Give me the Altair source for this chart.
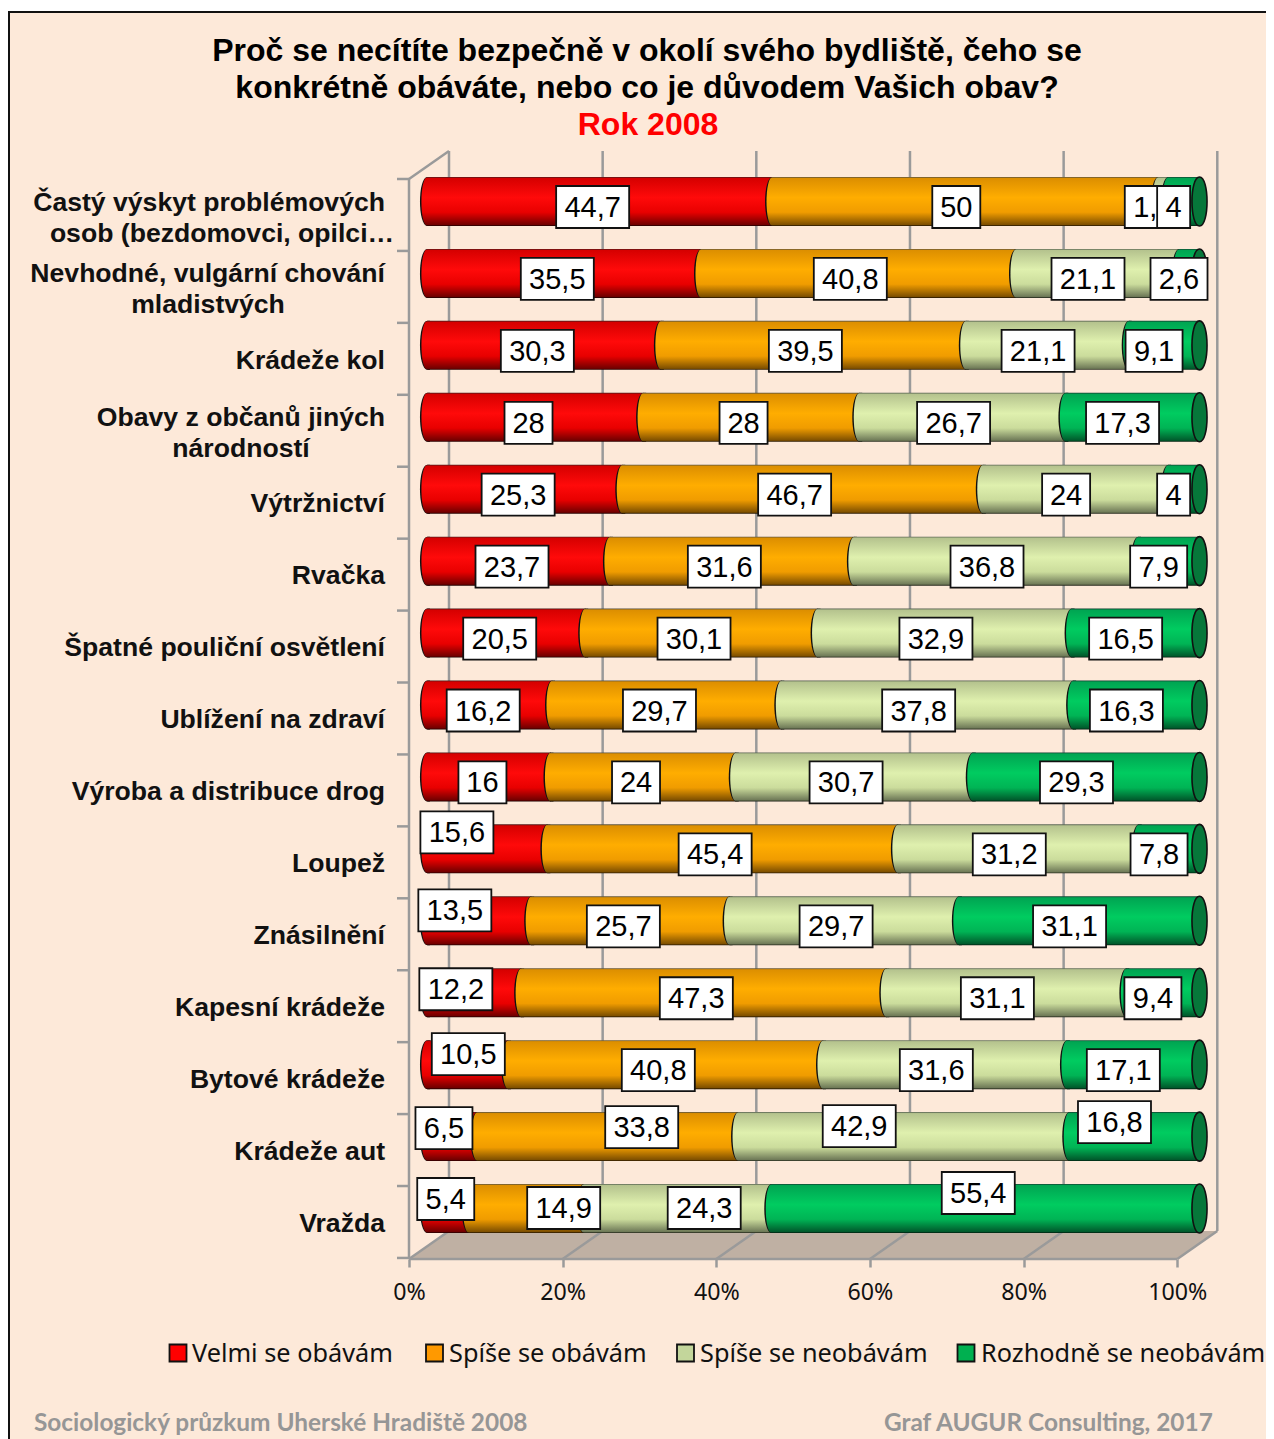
import altair as alt
import pandas as pd

# ---------- data ----------
categories = [
    ["Častý výskyt problémových", "osob (bezdomovci, opilci…"],
    ["Nevhodné, vulgární chování", "mladistvých"],
    ["Krádeže kol"],
    ["Obavy z občanů jiných", "národností"],
    ["Výtržnictví"],
    ["Rvačka"],
    ["Špatné pouliční osvětlení"],
    ["Ublížení na zdraví"],
    ["Výroba a distribuce drog"],
    ["Loupež"],
    ["Znásilnění"],
    ["Kapesní krádeže"],
    ["Bytové krádeže"],
    ["Krádeže aut"],
    ["Vražda"],
]
velmi = [44.7, 35.5, 30.3, 28, 25.3, 23.7, 20.5, 16.2, 16, 15.6, 13.5, 12.2, 10.5, 6.5, 5.4]
spise = [50, 40.8, 39.5, 28, 46.7, 31.6, 30.1, 29.7, 24, 45.4, 25.7, 47.3, 40.8, 33.8, 14.9]
neob = [1.3, 21.1, 21.1, 26.7, 24, 36.8, 32.9, 37.8, 30.7, 31.2, 29.7, 31.1, 31.6, 42.9, 24.3]
rozh = [4, 2.6, 9.1, 17.3, 4, 7.9, 16.5, 16.3, 29.3, 7.8, 31.1, 9.4, 17.1, 16.8, 55.4]
series_names = ["Velmi se obávám", "Spíše se obávám", "Spíše se neobávám", "Rozhodně se neobávám"]
series_values = [velmi, spise, neob, rozh]
x_ticks = [0, 20, 40, 60, 80, 100]

# ---------- layout ----------
W, H = 1258, 1431
AX0, AXK = 409.0, 7.683          # page px of axis 0 %, px per %
ROW0, ROWK = 201.5, 71.93        # page px of first row centre, px per row
BAR0, BARK = 427.5, 7.72         # bars sit half-way through the 3-D depth
LAB0, LABK = 421.0, 7.68
BAR_H = 49
DEPTH_X, DEPTH_Y = 40, -28
GRID = "#9a9a9a"
INK = "#111111"

def xd(px):
    return (px - AX0) / AXK

def yd(py):
    return (py - ROW0) / ROWK

xscale = alt.Scale(domain=[xd(8), xd(8 + W)], nice=False, zero=False)
yscale = alt.Scale(domain=[yd(8 + H), yd(8)], nice=False, zero=False)
# the real 0-100 % axis, moved up from the bottom of the plot area to the floor edge
xaxis = alt.Axis(
    values=x_ticks, labelExpr="datum.value + '%'", offset=1259 - 8 - H,
    domain=False, grid=False, ticks=True, tickSize=8, tickColor=GRID, tickWidth=2.5,
    labelFont="Noto Sans", labelFontSize=23.2, labelColor=INK, labelPadding=14, labelFlush=False,
    title=None,
)

def X(f="x", **kw):
    return alt.X(f"{f}:Q", scale=xscale, axis=xaxis, title=None, **kw)

def Y(f="y", **kw):
    return alt.Y(f"{f}:Q", scale=yscale, axis=None, title=None, **kw)

def X2(f="x2"):
    return alt.X2(f"{f}")

def Y2(f="y2"):
    return alt.Y2(f"{f}")

def grad(edge_top, top, mid, low, bottom, edge_bottom):
    return alt.LinearGradient(
        gradient="linear", x1=0, x2=0, y1=0, y2=1,
        stops=[
            alt.GradientStop(color=edge_top, offset=0),
            alt.GradientStop(color=top, offset=0.03),
            alt.GradientStop(color=mid, offset=0.42),
            alt.GradientStop(color=low, offset=0.72),
            alt.GradientStop(color=bottom, offset=0.97),
            alt.GradientStop(color=edge_bottom, offset=1),
        ],
    )

gradients = [
    grad("#4a1a1a", "#d60000", "#ff0a0a", "#e80000", "#720000", "#1a0000"),
    grad("#555040", "#dd8f00", "#ffad00", "#f09c00", "#7f5000", "#1c1000"),
    grad("#556050", "#b5c38e", "#dff0ae", "#cbdc9c", "#6f7a58", "#1c2015"),
    grad("#104030", "#00a552", "#00cc60", "#00b455", "#005a2c", "#001a0c"),
]
legend_fill = ["#ff0000", "#ff9900", "#c3d69b", "#00b050"]

layers = []

# ---------- 3-D frame ----------
floor = pd.DataFrame({
    "x": [xd(AX0), xd(AX0 + DEPTH_X), xd(AX0 + 100 * AXK), xd(AX0 + 100 * AXK + DEPTH_X)],
    "y": [yd(1259), yd(1259 + DEPTH_Y), yd(1259 + DEPTH_Y), yd(1259 + DEPTH_Y)],
    "y2": [yd(1259), yd(1259), yd(1259), yd(1259 + DEPTH_Y)],
})
layers.append(alt.Chart(floor).mark_area(color="#bfb0a3", opacity=1).encode(X(), Y(), Y2()))

rules = []
for t in x_ticks:
    px = AX0 + t * AXK
    rules.append(dict(x=xd(px + DEPTH_X), x2=xd(px + DEPTH_X), y=yd(151), y2=yd(1259 + DEPTH_Y)))  # wall grid
    rules.append(dict(x=xd(px), x2=xd(px + DEPTH_X), y=yd(1259), y2=yd(1259 + DEPTH_Y)))           # floor grid
rules.append(dict(x=xd(AX0), x2=xd(AX0 + DEPTH_X), y=yd(179), y2=yd(151)))                         # top-left diagonal
rules.append(dict(x=xd(AX0), x2=xd(AX0), y=yd(179), y2=yd(1259)))                                  # front vertical
rules.append(dict(x=xd(AX0), x2=xd(AX0 + 100 * AXK), y=yd(1259), y2=yd(1259)))                     # front base
for i in range(16):
    py = 179 + i * ROWK
    rules.append(dict(x=xd(AX0 - 12), x2=xd(AX0), y=yd(py), y2=yd(py)))                            # category ticks
layers.append(alt.Chart(pd.DataFrame(rules)).mark_rule(color=GRID, strokeWidth=2.5).encode(X(), X2(), Y(), Y2()))

# ---------- cylinders ----------
half = BAR_H / 2 / ROWK
CAP_DARK = "M0,-1 C-0.41,-1 -0.41,1 0,1 Z"
CAP_FILL = "M0.1,-1 L0,-1 C-0.33,-1 -0.33,1 0,1 L0.1,1 Z"
FULL = "M0,-1 C0.41,-1 0.41,1 0,1 C-0.41,1 -0.41,-1 0,-1 Z"
SIZE = BAR_H ** 2

starts = [0.0] * len(categories)
stacks = []
for vals in series_values:
    rows = []
    for r, v in enumerate(vals):
        s = starts[r]
        rows.append(dict(
            rank=r, x=xd(BAR0 + BARK * s), x2=xd(BAR0 + BARK * (s + v)),
            y=r - half, y2=r + half, yc=r, mid=s + v / 2, v=v,
        ))
        starts[r] = s + v
    stacks.append(pd.DataFrame(rows))

for df, g in zip(stacks, gradients):
    base = alt.Chart(df)
    layers.append(base.mark_rect(fill=g).encode(X(), X2(), Y(), Y2()))
    layers.append(base.mark_point(shape=CAP_DARK, size=SIZE, filled=True, fill=INK, opacity=1, strokeWidth=0)
                  .encode(X(), Y("yc")))
    layers.append(base.mark_point(shape=CAP_FILL, size=SIZE, filled=True, fill=g, opacity=1, strokeWidth=0)
                  .encode(X(), Y("yc")))

end_df = pd.DataFrame({"x": [xd(BAR0 + BARK * s) for s in starts], "yc": list(range(len(starts)))})
layers.append(alt.Chart(end_df).mark_point(shape=FULL, size=SIZE, filled=True, fill="#06773a", stroke=INK, strokeWidth=1.6, opacity=1)
              .encode(X(), Y("yc")))

# ---------- data labels (manual moves as in the reference chart) ----------
label_moves = {
    (9, 0): (-24, -22), (10, 0): (-18, -16), (11, 0): (-12, -9), (12, 0): (7, -16),
    (13, 0): (-2, -14), (13, 1): (41, -15), (13, 2): (-36, -16), (13, 3): (-10, -20),
    (14, 0): (4, -15), (14, 1): (44, -6), (14, 2): (34, -6), (14, 3): (2, -21),
}
box_w = {1: 33, 2: 48, 3: 57, 4: 73}
BOX_H = 42

def box_shape(n):
    hw = box_w[n] / 2 / 50
    hh = BOX_H / 2 / 50
    return f"M{-hw},{-hh} L{hw},{-hh} L{hw},{hh} L{-hw},{hh} Z"

for si, df in enumerate(stacks):
    rows = []
    for _, row in df.iterrows():
        r = int(row["rank"])
        dx, dy = label_moves.get((r, si), (0, 0))
        txt = f"{row['v']:g}".replace(".", ",")
        rows.append(dict(
            x=xd(LAB0 + LABK * row["mid"] + dx),
            y=r + (5.5 + dy) / ROWK,
            t=txt, shape=box_shape(len(txt)),
        ))
    ld = alt.Chart(pd.DataFrame(rows))
    layers.append(ld.mark_point(filled=True, fill="white", stroke=INK, strokeWidth=1.8, opacity=1, size=10000)
                  .encode(X(), Y(), shape=alt.Shape("shape:N", scale=None, legend=None)))
    layers.append(ld.mark_text(font="Liberation Sans", fontSize=29, color="#000000", baseline="middle", dy=1)
                  .encode(X(), Y(), text="t:N"))

# ---------- category labels ----------
LINE_GAP = 31
cat_rows = []
for r, lines in enumerate(categories):
    yc = ROW0 + r * ROWK
    if len(lines) == 1:
        cat_rows.append(dict(x=xd(385), y=yd(yc + 15.2), t=lines[0], al="right"))
    else:
        cx = {0: 222, 1: 208, 3: 241}[r]
        for j, ln in enumerate(lines):
            # first line ends at the common right edge, the rest are centred under it
            if j == 0:
                cat_rows.append(dict(x=xd(385), y=yd(yc + 1 + j * LINE_GAP), t=ln, al="right"))
            else:
                cat_rows.append(dict(x=xd(cx), y=yd(yc + 1 + j * LINE_GAP), t=ln, al="center"))
cat_df = pd.DataFrame(cat_rows)
for al in ["right", "center"]:
    layers.append(alt.Chart(cat_df[cat_df.al == al]).mark_text(
        font="Liberation Sans", fontWeight="bold", fontSize=26.6, color=INK, align=al, baseline="middle",
    ).encode(X(), Y(), text="t:N"))

# ---------- title ----------
title_df = pd.DataFrame({
    "t": ["Proč se necítíte bezpečně v okolí svého bydliště, čeho se",
          "konkrétně obáváte, nebo co je důvodem Vašich obav?"],
    "x": [xd(647), xd(647)], "y": [yd(51), yd(88)],
})
layers.append(alt.Chart(title_df).mark_text(
    font="Liberation Sans", fontWeight="bold", fontSize=32, color="#000000", baseline="middle",
).encode(X(), Y(), text="t:N"))
layers.append(alt.Chart(pd.DataFrame({"t": ["Rok 2008"], "x": [xd(648)], "y": [yd(125)]})).mark_text(
    font="Liberation Sans", fontWeight="bold", fontSize=32, color="#ff0000", baseline="middle",
).encode(X(), Y(), text="t:N"))

# ---------- legend ----------
leg_df = pd.DataFrame({
    "t": series_names,
    "sx": [xd(178), xd(434.5), xd(685.5), xd(966)],
    "lx": [xd(192), xd(449), xd(700), xd(981)],
    "y": [yd(1354)] * 4,
    "sy": [yd(1353)] * 4,
    "fill": legend_fill,
})
layers.append(alt.Chart(leg_df).mark_point(shape="square", filled=True, size=17 ** 2, stroke=INK, strokeWidth=1.8, opacity=1).encode(
    x=X("sx"), y=Y("sy"), fill=alt.Fill("fill:N", scale=None, legend=None)))
layers.append(alt.Chart(leg_df).mark_text(font="Noto Sans", fontSize=25.3, color=INK, align="left", baseline="middle").encode(
    x=X("lx"), y=Y(), text="t:N"))

# ---------- footer ----------
foot_df = pd.DataFrame({
    "t": ["Sociologický průzkum Uherské Hradiště 2008", "Graf AUGUR Consulting, 2017"],
    "x": [xd(34), xd(884)], "y": [yd(1424), yd(1424)],
})
layers.append(alt.Chart(foot_df).mark_text(
    font="Lato", fontWeight="bold", fontSize=24.4, color="#969696", align="left", baseline="middle",
).encode(X(), Y(), text="t:N"))

# ---------- outer frame ----------
edge = pd.DataFrame({"x": [xd(8)], "x2": [xd(8 + W)], "y": [yd(8)], "y2": [yd(11)]})
layers.append(alt.Chart(edge).mark_rect(color="white").encode(X(), X2(), Y(), Y2()))
frame = pd.DataFrame({
    "x": [xd(8), xd(9)], "x2": [xd(8 + W), xd(9)],
    "y": [yd(12), yd(12)], "y2": [yd(12), yd(8 + H)],
})
layers.append(alt.Chart(frame).mark_rule(color=INK, strokeWidth=2).encode(X(), X2(), Y(), Y2()))

chart = alt.layer(*layers).properties(
    width=W, height=H, padding=0,
    autosize=alt.AutoSizeParams(type="none"),
    background="#fde9d9",
).configure_view(stroke=None)

chart.save("out.html", embed_options={"renderer": "svg", "actions": False})
